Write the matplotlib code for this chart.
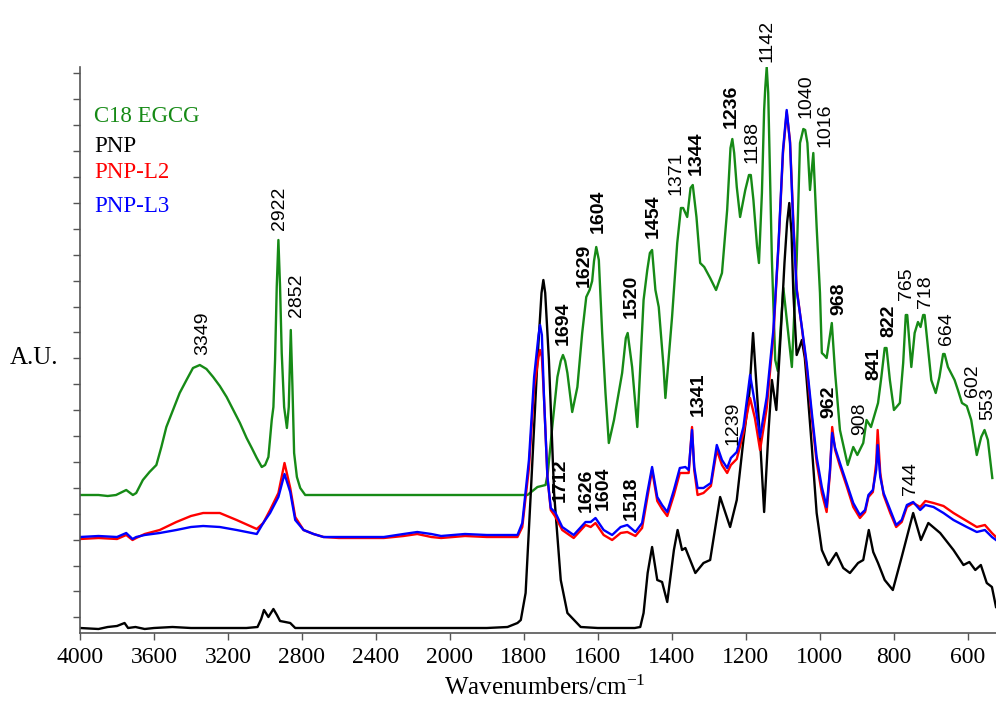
"""FTIR spectra of C18 EGCG, PNP, PNP-L2 and PNP-L3."""
import numpy as np
import matplotlib
matplotlib.use('Agg')
import matplotlib.pyplot as plt

plt.rcParams['font.family'] = ['Liberation Serif', 'DejaVu Serif']
plt.rcParams['mathtext.default'] = 'regular'

# wavenumber (cm-1) / absorbance (a.u.)
wn_egcg = [4000, 3900, 3850, 3805, 3750, 3714, 3696, 3660, 3624, 3587, 3560, 3533, 3497,
           3461, 3424, 3389, 3352, 3316, 3280, 3244, 3207, 3171, 3135, 3099, 3071, 3044,
           3017, 2999, 2981, 2963, 2954, 2945, 2936, 2927, 2918, 2909, 2896, 2881, 2871,
           2860, 2851, 2842, 2827, 2809, 2782, 2500, 2200, 2000, 1850, 1790, 1763, 1741,
           1735, 1723, 1709, 1700, 1694, 1688, 1682, 1669, 1655, 1642, 1631, 1622, 1615,
           1610, 1604, 1597, 1588, 1579, 1570, 1556, 1534, 1524, 1519, 1507, 1493, 1476,
           1466, 1459, 1453, 1444, 1435, 1422, 1417, 1399, 1385, 1375, 1369, 1358, 1349,
           1343, 1333, 1323, 1312, 1296, 1280, 1264, 1250, 1241, 1236, 1231, 1224, 1215,
           1201, 1191, 1186, 1179, 1169, 1164, 1156, 1150, 1147, 1143, 1139, 1129, 1120,
           1113, 1098, 1085, 1075, 1062, 1053, 1044, 1039, 1033, 1026, 1017, 1008, 999, 994,
           988, 981, 970, 967, 958, 945, 924, 909, 898, 882, 873, 861, 842, 833, 824,
           819, 810, 799, 783, 774, 767, 763, 752, 743, 734, 727, 720, 716, 707, 698,
           686, 676, 666, 662, 653, 635, 626, 615, 602, 590, 575, 563, 554, 545, 533]
ab_egcg = [138, 138, 137, 138, 143, 138, 140, 153, 161, 168, 186, 206, 223,
           240, 253, 265, 268, 264, 256, 247, 236, 223, 210, 195, 185, 175,
           166, 168, 176, 213, 226, 273, 346, 393, 346, 280, 226, 205, 226,
           303, 246, 180, 156, 145, 138, 138, 138, 138, 138, 138, 146, 148,
           160, 206, 256, 272, 278, 272, 260, 221, 246, 300, 336, 343, 352,
           372, 386, 373, 300, 240, 190, 213, 260, 295, 300, 266, 206, 333,
           363, 380, 383, 343, 326, 266, 235, 316, 390, 425, 425, 416, 445,
           448, 416, 370, 366, 355, 343, 360, 423, 485, 494, 480, 446, 416,
           443, 458, 458, 433, 386, 370, 440, 523, 545, 566, 540, 373, 273,
           262, 345, 300, 266, 373, 490, 504, 503, 490, 443, 480, 406, 340, 280,
           278, 275, 303, 310, 260, 203, 168, 186, 178, 190, 213, 206, 230, 256, 285,
           285, 253, 223, 230, 270, 318, 318, 266, 300, 311, 306, 318, 318, 286, 253,
           240, 256, 279, 279, 266, 253, 243, 230, 227, 213, 178, 196, 203, 193, 155]

wn_pnp = [4000, 3900, 3850, 3800, 3759, 3740, 3700, 3650, 3600, 3500, 3400, 3200, 3100,
          3040, 3020, 3005, 2981, 2954, 2935, 2918, 2890, 2863, 2836, 2700, 2400, 2200,
          2000, 1900, 1844, 1817, 1808, 1795, 1781, 1763, 1752, 1747, 1742, 1732, 1718,
          1700, 1682, 1646, 1600, 1540, 1500, 1485, 1476, 1465, 1453, 1439, 1426, 1412,
          1394, 1384, 1372, 1363, 1336, 1314, 1296, 1269, 1242, 1224, 1206, 1190, 1180,
          1161, 1150, 1138, 1129, 1117, 1105, 1095, 1088, 1082, 1076, 1071, 1062, 1055,
          1048, 1040, 1035, 1021, 1008, 994, 976, 955, 936, 918, 896, 882, 867, 855, 842,
          824, 802, 778, 747, 726, 706, 674, 638, 611, 595, 579, 564, 548, 534, 523]
ab_pnp = [5, 4, 6, 7, 10, 5, 6, 4, 5, 6, 5, 5, 5,
          6, 14, 23, 16, 24, 18, 12, 11, 10, 5, 5, 5, 5,
          5, 5, 6, 10, 13, 40, 140, 273, 340, 353, 340, 273, 140,
          53, 20, 6, 5, 5, 5, 6, 20, 60, 86, 53, 51, 31,
          83, 103, 83, 85, 60, 70, 73, 136, 106, 133, 193, 240, 300,
          193, 121, 203, 253, 223, 300, 370, 410, 430, 400, 340, 278, 285,
          293, 275, 253, 186, 120, 83, 68, 80, 65, 60, 70, 73, 103, 81, 70,
          53, 43, 76, 120, 93, 110, 100, 83, 68, 71, 63, 68, 50, 46, 26]

wn_pnpl = [4000, 3900, 3800, 3750, 3716, 3696, 3650, 3569, 3479, 3400, 3334, 3244, 3153,
           3044, 3009, 2972, 2927, 2894, 2863, 2836, 2791, 2737, 2683, 2600, 2500, 2357,
           2250, 2176, 2100, 2047, 1959, 1900, 1817, 1804, 1786, 1772, 1760, 1756, 1751,
           1745, 1736, 1727, 1714, 1696, 1665, 1633, 1619, 1606, 1584, 1561, 1538, 1520,
           1498, 1480, 1466, 1453, 1439, 1426, 1412, 1394, 1378, 1363, 1354, 1345, 1339,
           1330, 1314, 1294, 1278, 1264, 1250, 1240, 1224, 1206, 1188, 1175, 1161, 1143,
           1125, 1111, 1099, 1089, 1080, 1071, 1062, 1048, 1035, 1021, 1008, 994, 981,
           972, 966, 958, 945, 927, 909, 891, 877, 868, 856, 847, 843, 836, 827, 809, 793,
           778, 764, 747, 728, 714, 692, 665, 638, 602, 575, 553, 534, 523]
ab_l2 = [94, 95, 94, 98, 93, 95, 99, 103, 111, 117, 120, 120, 113,
         104, 110, 123, 140, 170, 145, 116, 103, 99, 96, 95, 95, 95,
         97, 99, 96, 95, 97, 96, 96, 106, 165, 245, 276, 283, 276,
         233, 156, 123, 116, 103, 95, 108, 106, 110, 98, 93, 100, 101,
         97, 105, 135, 163, 132, 124, 117, 138, 160, 160, 160, 206, 163,
         138, 140, 147, 183, 168, 160, 168, 174, 200, 235, 215, 183, 225,
         298, 388, 480, 521, 492, 412, 345, 305, 266, 215, 171, 140, 121,
         160, 206, 183, 167, 147, 126, 115, 121, 136, 141, 170, 203, 160, 138, 120, 106,
         111, 126, 130, 126, 132, 130, 127, 120, 112, 106, 108, 100, 96]
ab_l3 = [96, 97, 96, 100, 94, 96, 98, 100, 103, 106, 107, 106, 103,
         99, 110, 120, 136, 159, 141, 113, 103, 99, 96, 96, 96, 96,
         99, 101, 99, 97, 99, 98, 98, 110, 173, 256, 298, 308, 298,
         233, 156, 125, 120, 106, 98, 111, 111, 115, 103, 98, 106, 108,
         101, 110, 140, 166, 136, 128, 121, 143, 165, 166, 163, 203, 166,
         145, 145, 150, 188, 173, 165, 175, 181, 206, 258, 230, 196, 236,
         303, 390, 483, 523, 490, 406, 343, 306, 270, 220, 176, 146, 126,
         163, 200, 185, 170, 150, 130, 118, 123, 138, 143, 163, 188, 156, 140, 123, 108,
         113, 128, 131, 123, 128, 126, 120, 113, 106, 101, 103, 96, 93]

series_names = ['C18 EGCG', 'PNP', 'PNP-L2', 'PNP-L3']
series_colors = ['#168a16', 'black', 'red', 'blue']

# peak labels: text, wavenumber, height of the label's lower end, bold?
peak_text = ['3349', '2922', '2852', '1694', '1629', '1604', '1520', '1454', '1371',
             '1344', '1236', '1188', '1142', '1040', '1016', '968', '822', '765', '718',
             '664', '602', '553', '1712', '1626', '1604', '1518', '1341', '1239', '962',
             '908', '841', '744']
peak_wn = [3334, 2923, 2827, 1694, 1636, 1599, 1509, 1451, 1388,
           1334, 1239, 1184, 1143, 1037, 985, 947, 813, 766, 713,
           657, 587, 546, 1700, 1631, 1586, 1510, 1329, 1233, 974,
           893, 853, 754]
peak_y = [278, 403, 316, 288, 346, 400, 315, 395, 438,
          458, 505, 470, 571, 515, 486, 318, 296, 333, 325,
          288, 236, 213, 131, 121, 123, 113, 217, 188, 215,
          198, 253, 138]
peak_bold = [0, 0, 0, 1, 1, 1, 1, 1, 0,
             1, 1, 0, 0, 0, 0, 1, 1, 0, 0,
             0, 0, 0, 1, 1, 1, 1, 1, 0, 1,
             0, 1, 0]

x_ticks = [4000, 3600, 3200, 2800, 2400, 2000, 1800, 1600, 1400, 1200, 1000, 800, 600]


def fwd(w):
    # region above 2000 cm-1 is drawn at half scale
    w = np.asarray(w, dtype=float)
    return np.where(w <= 2000, w, 2000 + (w - 2000) / 2)


def inv(p):
    p = np.asarray(p, dtype=float)
    return np.where(p <= 2000, p, 2000 + (p - 2000) * 2)


fig = plt.figure(figsize=(9.96, 7.04), dpi=100)
ax = fig.add_axes([80 / 996, 71 / 704, 916 / 996, 566 / 704])
ax.set_xscale('function', functions=(fwd, inv))

ax.plot(wn_egcg, ab_egcg, color=series_colors[0], lw=1.7)
ax.plot(wn_pnp, ab_pnp, color=series_colors[1], lw=1.7)
ax.plot(wn_pnpl, ab_l2, color=series_colors[2], lw=1.7)
ax.plot(wn_pnpl, ab_l3, color=series_colors[3], lw=1.7)

ax.set_xlim(4000, 523)
ax.set_ylim(0, 566)
ax.set_xticks(x_ticks)
ax.set_xticklabels([str(t) for t in x_ticks])
ax.xaxis.set_minor_locator(plt.NullLocator())
ax.set_yticks(np.arange(15.7, 566, 25.9))
ax.set_yticklabels([])
ax.tick_params(axis='x', direction='out', length=5, width=1, pad=5,
               labelsize=17, color='#555555')
ax.tick_params(axis='y', direction='out', length=5, width=1, color='#555555')
for side in ['top', 'right']:
    ax.spines[side].set_visible(False)
for side in ['left', 'bottom']:
    ax.spines[side].set_color('#555555')
    ax.spines[side].set_linewidth(1.2)

for txt, w, y, b in zip(peak_text, peak_wn, peak_y, peak_bold):
    ax.text(w, y, txt, rotation=90, ha='center', va='bottom', fontsize=14,
            family='Liberation Sans', fontweight='bold' if b else 'normal',
            color='black', clip_on=False)

legend_baselines = [122, 152, 178, 212]
for name, col, yb in zip(series_names, series_colors, legend_baselines):
    fig.text(94 / 996, 1 - yb / 704, name, color=col, fontsize=16.5,
             ha='left', va='baseline')

fig.text(10 / 996, 1 - 358 / 704, 'A.U.', fontsize=18, ha='left', va='center')
fig.text(545 / 996, 1 - 688 / 704, 'Wavenumbers/cm$^{-1}$', fontsize=18,
         ha='center', va='center')

fig.savefig('out.png', dpi=100)
